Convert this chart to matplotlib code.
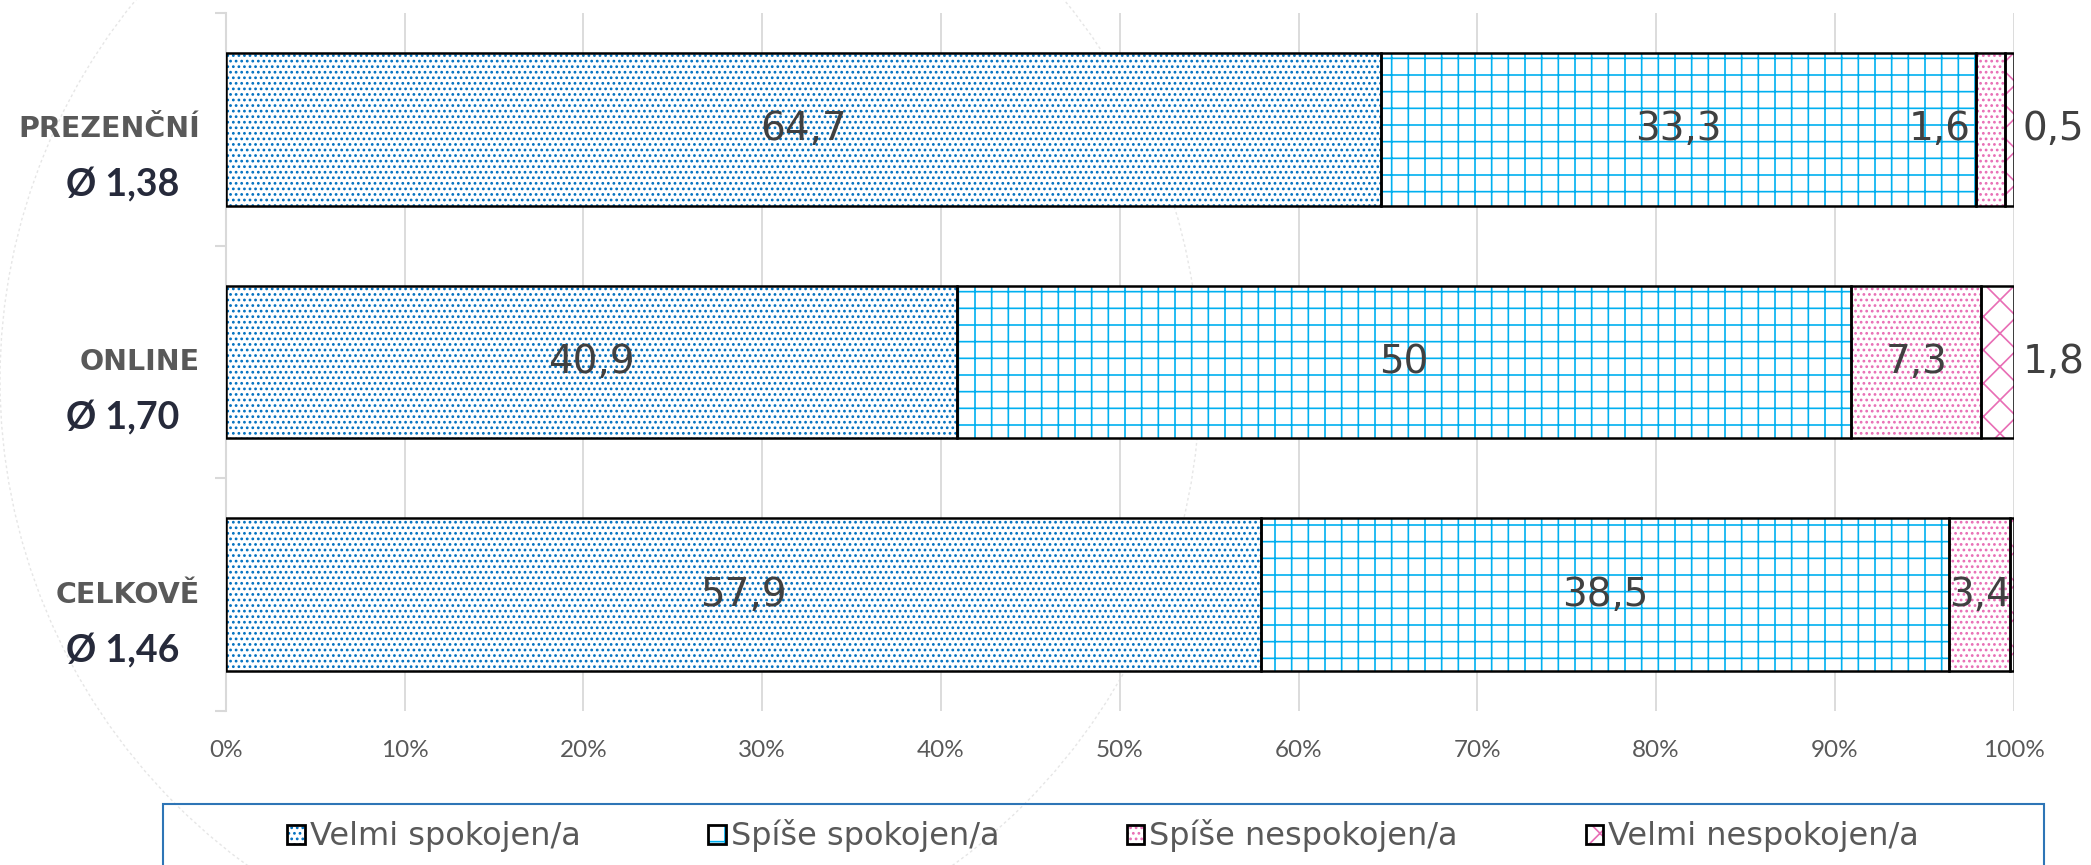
import numpy as np
import matplotlib
matplotlib.use("Agg")
import matplotlib.pyplot as plt
from matplotlib.patches import Patch, Rectangle, Circle
from matplotlib.legend_handler import HandlerTuple

# data
categories = ["PREZENČNÍ", "ONLINE", "CELKOVĚ"]
averages = ["Ø 1,38", "Ø 1,70", "Ø 1,46"]
series_names = ["Velmi spokojen/a", "Spíše spokojen/a", "Spíše nespokojen/a", "Velmi nespokojen/a"]
velmi_spokojen = [64.7, 40.9, 57.9]
spise_spokojen = [33.3, 50.0, 38.5]
spise_nespokojen = [1.6, 7.3, 3.4]
velmi_nespokojen = [0.5, 1.8, 0.2]
shown_last = [True, True, False]
ticks = [0, 10, 20, 30, 40, 50, 60, 70, 80, 90, 100]

colors = ["#0070C0", "#00B0F0", "#E86DB5", "#E86DB5"]
hatches = ["...", "+", "...", "x"]
grey = "#595959"

plt.rcParams["hatch.linewidth"] = 1.2

fig = plt.figure(figsize=(20.91, 8.65), dpi=100)

# faint decorative circle in background
bg = fig.add_axes([0, 0, 1, 1], zorder=-5)
bg.set_xlim(0, 2091)
bg.set_ylim(865, 0)
bg.axis("off")
bg.add_patch(Circle((600, 380), 600, fill=False, ec="#e6e6e6", lw=1, ls=(0, (2, 2))))

ax = fig.add_axes([0.108, 0.178, 0.855, 0.807])
ax.patch.set_alpha(0)

series = np.array([velmi_spokojen, spise_spokojen, spise_nespokojen, velmi_nespokojen])
shares = series / series.sum(axis=0) * 100
y = np.array([2, 1, 0])
h = 0.655
lab_kw = dict(va="center", fontsize=28, color="#404040", zorder=4)

left = np.zeros(3)
for i in range(4):
    ax.barh(y, shares[i], left=left, height=h, color="white", edgecolor=colors[i],
            hatch=hatches[i], linewidth=0, zorder=2)
    ax.barh(y, shares[i], left=left, height=h, fill=False, edgecolor="black",
            linewidth=1.8, zorder=3)
    for j in range(3):
        txt = f"{series[i][j]:g}".replace(".", ",")
        if i < 2:
            ax.text(left[j] + shares[i][j] / 2, y[j], txt, ha="center", **lab_kw)
        elif i == 2:
            if shares[i][j] < 3:
                ax.text(left[j] - 0.3, y[j], txt, ha="right", **lab_kw)
            else:
                ax.text(left[j] + shares[i][j] / 2, y[j], txt, ha="center", **lab_kw)
        elif shown_last[j]:
            ax.text(100.5, y[j], txt, ha="left", **lab_kw)
    left = left + shares[i]

ax.set_xlim(0, 100)
ax.set_ylim(-0.5, 2.5)
ax.set_xticks(ticks)
ax.set_xticklabels([f"{t}%" for t in ticks], fontfamily="Lato", fontsize=17.5, color=grey)
ax.tick_params(axis="x", length=0, pad=21)
ax.set_yticks([-0.5, 0.5, 1.5, 2.5])
ax.set_yticklabels([])
ax.tick_params(axis="y", length=8, color="#D9D9D9", width=1.5)
ax.grid(axis="x", color="#D9D9D9", lw=1.3)
ax.set_axisbelow(True)
for s in ["top", "right", "bottom"]:
    ax.spines[s].set_visible(False)
ax.spines["left"].set_color("#D9D9D9")
ax.spines["left"].set_linewidth(1.5)

trans = ax.get_yaxis_transform()
for j in range(3):
    ax.text(-0.0145, y[j], categories[j], transform=trans, ha="right", va="center",
            fontsize=20.5, fontweight="bold", color=grey)
    ax.text(-0.0576, y[j] - 0.24, averages[j], transform=trans, ha="center", va="center",
            fontsize=27, fontweight="bold", fontfamily="Lato", color="#262A3B")

# legend
handles = []
for i in range(4):
    p1 = Patch(facecolor="white", edgecolor=colors[i], hatch=hatches[i], linewidth=0)
    p2 = Patch(fill=False, edgecolor="black", linewidth=2)
    handles.append((p1, p2))
leg = fig.legend(handles, series_names, handler_map={tuple: HandlerTuple(ndivide=1)},
                 ncol=4, loc="center", bbox_to_anchor=(0.5275, 1 - 836 / 865), frameon=False,
                 fontsize=23, handlelength=0.55, handleheight=0.55, handletextpad=0.15,
                 columnspacing=4.0)
for t in leg.get_texts():
    t.set_color(grey)

fig.add_artist(Rectangle((163 / 2091, -0.1), (2044 - 163) / 2091, 0.1 + 1 - 804 / 865,
                         transform=fig.transFigure, fill=False, ec="#2E75B6", lw=1.5,
                         clip_on=False))

fig.savefig("out.png", dpi=100)
